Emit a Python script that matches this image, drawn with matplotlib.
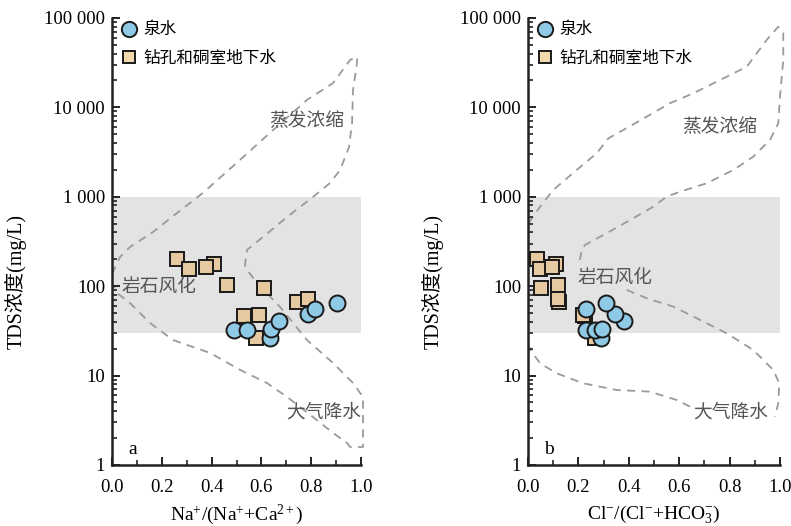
import numpy as np
import matplotlib
matplotlib.use('Agg')
import matplotlib.pyplot as plt
from matplotlib.lines import Line2D
from matplotlib.ticker import FixedLocator, LogLocator, MultipleLocator, NullFormatter, FormatStrFormatter

plt.rcParams['font.family'] = ['Liberation Serif', 'Noto Sans CJK SC']
plt.rcParams['mathtext.fontset'] = 'custom'
plt.rcParams['mathtext.rm'] = 'Liberation Serif'
plt.rcParams['mathtext.it'] = 'Liberation Serif:italic'
plt.rcParams['axes.unicode_minus'] = True

# TDS (mg/L) of the samples, same order for both ratios
spring_tds = [26, 32, 32.5, 33.5, 40.5, 49, 55, 64.5]
spring_na = [0.633, 0.49, 0.542, 0.64, 0.671, 0.788, 0.815, 0.905]
spring_cl = [0.291, 0.23, 0.266, 0.294, 0.381, 0.347, 0.23, 0.31]

well_tds = [200, 177, 157, 163, 102, 96, 46, 48, 26, 66, 72]
well_na = [0.26, 0.41, 0.309, 0.378, 0.462, 0.612, 0.529, 0.589, 0.578, 0.742, 0.786]
well_cl = [0.037, 0.112, 0.048, 0.096, 0.12, 0.053, 0.226, 0.22, 0.266, 0.124, 0.118]

# Gibbs envelope outlines (nan = break in the line)
gibbs_na_x = [0.0, 0.032, 0.072, 0.165, 0.261, 0.365, 0.514, 0.647, 0.783, 0.888, 0.956, 0.984,
              0.984, 0.968, 0.964, 0.952, 0.916, 0.876, 0.807, 0.703, 0.606, 0.542, 0.534, 0.542,
              0.582, 0.675, 0.783, 0.888, 0.968, 1.008, 1.008, 0.956, 0.944, 0.888, 0.807, 0.703,
              0.622, 0.514, 0.394, 0.245, 0.153, 0.072, 0.020, 0.0]
gibbs_na_tds = [137, 212, 274, 404, 659, 1104, 2582, 5585, 12106, 18750, 33884, 36644,
                31405, 15668, 6699, 3606, 1995, 1426, 995, 594, 355, 254, 173, 152,
                109, 58.5, 25, 13.8, 8.26, 5.77, 1.59, 1.59, 1.76, 2.28, 3.44, 5.77,
                8.26, 11.6, 17.9, 25, 38.7, 64.9, 83.9, 109]

gibbs_cl_x = [0.001, 0.048, 0.100, 0.193, 0.273, 0.319, 0.378, 0.471, 0.563, 0.656, 0.762, 0.868,
              0.947, 0.993, 1.013, 1.013, 1.000, 0.993, 0.960, 0.894, 0.815, 0.709, 0.603, 0.550,
              0.497, 0.405, 0.312, 0.226, 0.213, 0.206, np.nan, 0.392, 0.471, 0.577, 0.683, 0.789,
              0.894, 0.973, 0.997, 0.993, 0.980, np.nan, 0.643, 0.590, 0.484, 0.352, 0.219, 0.114,
              0.048, 0.015, 0.0]
gibbs_cl_tds = [505, 774, 1191, 1995, 3069, 4508, 5585, 7870, 11117, 14388, 20230, 28510,
                56750, 79980, 67450, 33884, 13183, 6637, 4315, 2812, 1995, 1416, 1140, 1002,
                774, 550, 391, 289, 254, 196, np.nan, 90.8, 73.3, 59, 41.9, 29.7,
                19.3, 11.6, 8.2, 4.9, 3.47, np.nan, 4.49, 5.33, 6.61, 6.9, 8.2, 10.6,
                13.7, 18.4, 22]

ytick_vals = [1, 10, 100, 1000, 10000, 100000]
ytick_text = ['1', '10', '100', '1 000', '10 000', '100 000']

spring_color = '#8ecae6'
well_color = '#e6c9a0'
edge = '#1a1a1a'
note_color = '#555555'


def draw_panel(ax, spring_x, well_x, curve_x, curve_tds, notes, letter, xlabel):
    ax.axhspan(30, 1000, color='#e3e3e3', lw=0, zorder=0)
    ax.plot(curve_x, curve_tds, ls=(0, (4.5, 3.5)), color='#9a9a9a', lw=1.3,
            clip_on=False, zorder=1)
    ax.plot(well_x, well_tds, 's', ms=10, mfc=well_color, mec=edge, mew=1.4,
            ls='none', zorder=3)
    ax.plot(spring_x, spring_tds, 'o', ms=11.5, mfc=spring_color, mec=edge, mew=1.4,
            ls='none', zorder=4)

    for txt, x, y in notes:
        ax.text(x, y, txt, fontsize=13.5, color=note_color, ha='center', va='center',
                zorder=5)
    ax.text(0.084, 0.034, letter, transform=ax.transAxes, fontsize=14,
            ha='center', va='center')

    ax.set_xlim(0, 1)
    ax.set_yscale('log')
    ax.set_ylim(1, 1e5)
    ax.yaxis.set_major_locator(FixedLocator(ytick_vals))
    ax.set_yticklabels(ytick_text)
    ax.yaxis.set_minor_locator(LogLocator(base=10, subs=range(2, 10)))
    ax.yaxis.set_minor_formatter(NullFormatter())
    ax.xaxis.set_major_locator(MultipleLocator(0.2))
    ax.xaxis.set_minor_locator(MultipleLocator(0.1))
    ax.xaxis.set_major_formatter(FormatStrFormatter('%.1f'))

    ax.tick_params(which='major', direction='in', length=6, width=1.4, labelsize=13.5,
                   color='#222222')
    ax.tick_params(which='minor', direction='in', length=3.5, width=1.2, color='#222222')
    ax.tick_params(axis='x', which='major', pad=10)
    ax.tick_params(axis='y', which='major', pad=5)

    for s in ['top', 'right']:
        ax.spines[s].set_visible(False)
    for s in ['left', 'bottom']:
        ax.spines[s].set_linewidth(1.8)
        ax.spines[s].set_color('#222222')

    ax.set_ylabel('TDS浓度(mg/L)', fontsize=14.5)
    ax.set_xlabel(xlabel, fontsize=14)

    handles = [
        Line2D([], [], marker='o', ls='none', ms=11, mfc=spring_color, mec=edge, mew=1.4),
        Line2D([], [], marker='s', ls='none', ms=9, mfc='#f3d9ae', mec=edge, mew=1.4),
    ]
    ax.legend(handles, ['泉水', '钻孔和硐室地下水'], loc='upper left',
              bbox_to_anchor=(0.0, 1.005), frameon=False, fontsize=12,
              handlelength=1.2, handletextpad=0.3, labelspacing=0.75, borderaxespad=0)


fig = plt.figure(figsize=(7.91, 5.26), dpi=100)
ax1 = fig.add_axes([0.1416, 0.1160, 0.3148, 0.8498])
ax2 = fig.add_axes([0.6675, 0.1160, 0.3186, 0.8498])

draw_panel(ax1, spring_na, well_na, gibbs_na_x, gibbs_na_tds,
           [('蒸发浓缩', 0.78, 7000), ('岩石风化', 0.19, 95), ('大气降水', 0.85, 3.8)],
           'a', r'Na$^{+}$/(Na$^{+}$+Ca$^{2+}$)')
draw_panel(ax2, spring_cl, well_cl, gibbs_cl_x, gibbs_cl_tds,
           [('蒸发浓缩', 0.76, 6000), ('岩石风化', 0.345, 120), ('大气降水', 0.805, 3.8)],
           'b', r'Cl$^{-}$/(Cl$^{-}$+HCO$_{3}^{-}$)')

ax1.yaxis.set_label_coords(-0.341, 0.41)
ax2.yaxis.set_label_coords(-0.333, 0.41)
ax1.xaxis.set_label_coords(0.5, -0.085)
ax2.xaxis.set_label_coords(0.5, -0.085)

fig.savefig('out.png', dpi=100)
